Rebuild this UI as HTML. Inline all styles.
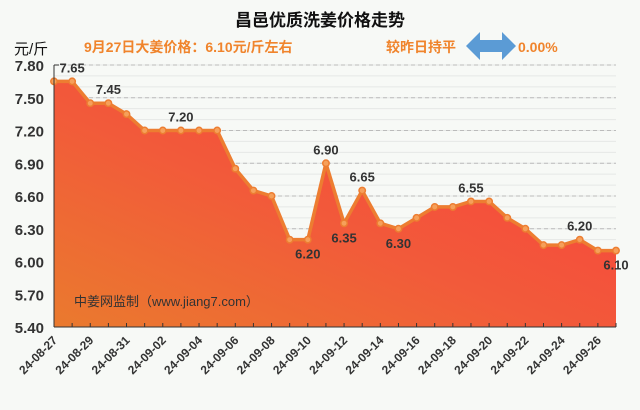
<!DOCTYPE html>
<html><head><meta charset="utf-8"><style>
html,body{margin:0;padding:0;background:#f7f9f6;}
svg{display:block;font-family:"Liberation Sans","Noto Sans CJK SC",sans-serif;}
</style></head><body>
<svg id="chart" width="640" height="410" viewBox="0 0 640 410">
<defs>
<linearGradient id="fillg" x1="1" y1="0" x2="0" y2="1">
<stop offset="0" stop-color="#f83e3e"/><stop offset="0.55" stop-color="#f25a3a"/><stop offset="1" stop-color="#ea7a2e"/>
</linearGradient>
</defs>
<text x="320" y="26" text-anchor="middle" font-size="17" font-weight="bold" fill="#111">昌邑优质洗姜价格走势</text>
<text x="14" y="54" font-size="15" fill="#111">元/斤</text>
<text x="84" y="52" font-size="14" font-weight="bold" fill="#f0842c">9月27日大姜价格：6.10元/斤左右</text>
<text x="386" y="52" font-size="14" font-weight="bold" fill="#f0842c">较昨日持平</text>
<polygon points="466,46 480,32 480,40 502,40 502,32 516,46 502,60 502,52 480,52 480,60" fill="#5b9bd5"/>
<text x="518" y="52" font-size="14" font-weight="bold" fill="#f0842c">0.00%</text>
<g id="grid"></g>
<g id="area"></g>
<g id="axes"></g>
<text x="74" y="306" font-size="13" fill="#333">中姜网监制（www.jiang7.com）</text>
</svg>
<script>
const dates=["24-08-27","24-08-28","24-08-29","24-08-30","24-08-31","24-09-01","24-09-02","24-09-03","24-09-04","24-09-05","24-09-06","24-09-07","24-09-08","24-09-09","24-09-10","24-09-11","24-09-12","24-09-13","24-09-14","24-09-15","24-09-16","24-09-17","24-09-18","24-09-19","24-09-20","24-09-21","24-09-22","24-09-23","24-09-24","24-09-25","24-09-26","24-09-27"];
const prices=[7.65,7.65,7.45,7.45,7.35,7.20,7.20,7.20,7.20,7.20,6.85,6.65,6.60,6.20,6.20,6.90,6.35,6.65,6.35,6.30,6.40,6.50,6.50,6.55,6.55,6.40,6.30,6.15,6.15,6.20,6.10,6.10];
const yTicks=[5.40,5.70,6.00,6.30,6.60,6.90,7.20,7.50,7.80];
const labelIdx=[1,3,7,15,14,16,17,19,23,29,31];
const labelBelow=[false,false,false,false,true,true,false,true,false,false,true];
const NS="http://www.w3.org/2000/svg";
const X0=54,X1=616,Y0=327,Y1=65,YMIN=5.4,YMAX=7.8;
const xs=i=>X0+(X1-X0)*i/(dates.length-1);
const ys=v=>Y0-(v-YMIN)/(YMAX-YMIN)*(Y0-Y1);
function mk(tag,attrs,parent){const e=document.createElementNS(NS,tag);for(const k in attrs)e.setAttribute(k,attrs[k]);parent.appendChild(e);return e;}
const grid=document.getElementById('grid'),area=document.getElementById('area'),axes=document.getElementById('axes');
for(let v=YMIN+0.1;v<YMAX+0.001;v+=0.1){const l=mk('line',{x1:X0,x2:X1,y1:ys(v),y2:ys(v),stroke:'#e6e8e6','stroke-width':1},grid);

}
yTicks.forEach(t=>{
 if(t>YMIN){const g=mk('line',{x1:X0,x2:X1,y1:ys(t),y2:ys(t),stroke:'#bbb','stroke-dasharray':'4,3'},grid);
 
 }
 const tx=mk('text',{x:44,y:ys(t)+6,'text-anchor':'end','font-size':15,'font-weight':'bold',fill:'#333'},axes);
 tx.textContent=t.toFixed(2);
 
 
});
let d='M'+xs(0)+','+Y0;
prices.forEach((p,i)=>{d+=' L'+xs(i)+','+ys(p);});
d+=' L'+xs(prices.length-1)+','+Y0+' Z';
const a=mk('path',{d:d,fill:'url(#fillg)'},area);


const ln=mk('polyline',{points:prices.map((p,i)=>xs(i)+','+ys(p)).join(' '),fill:'none',stroke:'#ed7d31','stroke-width':3.5,'stroke-linejoin':'round'},area);


prices.forEach((p,i)=>{
 const c=mk('circle',{cx:xs(i),cy:ys(p),r:3.2,fill:'#f6a05a',stroke:'#ed7d31','stroke-width':1.5},area);
 
 
});
labelIdx.forEach((i,k)=>{
 const below=labelBelow[k];
 const t=mk('text',{x:xs(i)+(i===0?8:0),y:ys(prices[i])+(below?19:-9),'text-anchor':'middle','font-size':13,'font-weight':'bold',fill:'#333'},area);
 t.textContent=prices[i].toFixed(2);
 
 
});
mk('line',{x1:X0,x2:X0,y1:Y1,y2:Y0,stroke:'#333'},axes);
mk('line',{x1:X0,x2:X0+5,y1:Y1,y2:Y1,stroke:'#333'},axes);
mk('line',{x1:X0,x2:X1,y1:Y0,y2:Y0,stroke:'#333'},axes);
dates.forEach((dt,i)=>{
 mk('line',{x1:xs(i),x2:xs(i),y1:Y0-4,y2:Y0,stroke:'#333'},axes);
 if(i%2===0){
  const t=mk('text',{x:0,y:0,'text-anchor':'end','font-size':12,'font-weight':'bold',fill:'#333',transform:'translate('+(xs(i)+4)+','+(Y0+14)+') rotate(-45)'},axes);
  t.textContent=dt;
  
  
 }
});
</script>
</body></html>
